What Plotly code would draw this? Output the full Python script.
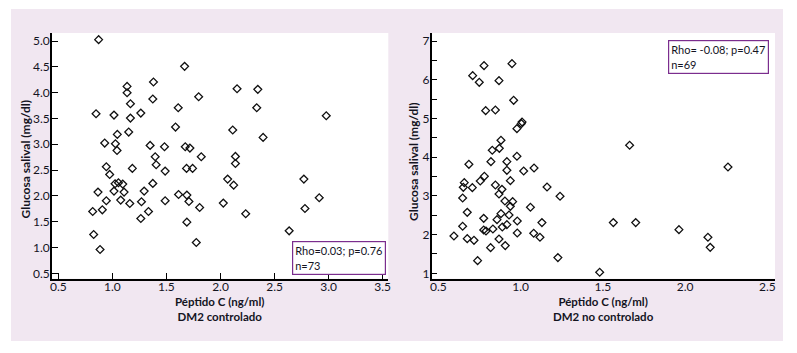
import plotly.graph_objects as go

W, H = 797, 353

# ---------------- data ----------------
ctrl_peptide = [0.873, 1.668, 1.380, 1.136, 1.136, 2.153, 2.345, 1.374, 1.798, 1.167,
                1.609, 2.335, 0.849, 1.015, 1.263, 1.167, 2.978, 1.584, 1.151, 1.046,
                2.113, 2.394, 0.929, 1.028, 1.349, 1.482, 1.674, 1.717, 1.043, 1.396,
                1.822, 2.138, 2.138, 1.405, 0.944, 1.185, 1.686, 1.742, 0.975, 1.488,
                2.066, 2.771, 1.025, 1.056, 1.096, 1.374, 2.122, 1.015, 1.108, 0.867,
                1.294, 1.612, 1.689, 2.913, 0.944, 1.077, 1.161, 1.269, 1.488, 1.708,
                2.026, 0.818, 0.907, 1.334, 1.807, 2.781, 1.263, 2.233, 1.689, 0.827,
                2.635, 0.886, 1.776]
ctrl_glucose = [5.026, 4.509, 4.205, 4.121, 3.998, 4.076, 4.063, 3.876, 3.921, 3.785,
                3.708, 3.708, 3.591, 3.565, 3.604, 3.507, 3.552, 3.333, 3.236, 3.191,
                3.275, 3.133, 3.023, 3.010, 2.977, 2.952, 2.952, 2.926, 2.880, 2.758,
                2.758, 2.764, 2.628, 2.603, 2.564, 2.532, 2.532, 2.532, 2.415, 2.480,
                2.325, 2.325, 2.234, 2.254, 2.228, 2.241, 2.208, 2.092, 2.073, 2.073,
                2.092, 2.027, 2.015, 1.963, 1.905, 1.918, 1.853, 1.885, 1.905, 1.892,
                1.860, 1.698, 1.730, 1.698, 1.775, 1.756, 1.562, 1.653, 1.491, 1.252,
                1.323, 0.961, 1.097]

nc_peptide = [0.948, 0.778, 0.709, 0.749, 0.869, 0.958, 0.788, 0.847, 1.009, 1.005,
              0.978, 0.881, 0.828, 0.871, 1.663, 0.978, 0.686, 0.820, 0.917, 1.082,
              2.261, 1.019, 0.917, 0.780, 0.755, 0.938, 0.658, 0.652, 0.707, 0.847,
              1.161, 0.887, 0.869, 1.240, 0.648, 0.905, 0.952, 0.938, 1.060, 0.676,
              0.881, 0.930, 0.776, 0.857, 0.980, 1.130, 1.564, 1.700, 0.648, 0.889,
              0.917, 0.776, 0.790, 0.832, 1.963, 0.980, 1.080, 0.595, 0.676, 0.717,
              0.869, 1.118, 2.139, 0.818, 0.907, 2.153, 1.227, 0.739, 1.481]
nc_glucose = [6.415, 6.363, 6.105, 5.933, 5.976, 5.468, 5.201, 5.218, 4.908, 4.865,
              4.736, 4.435, 4.177, 4.228, 4.306, 4.022, 3.815, 3.884, 3.884, 3.720,
              3.746, 3.643, 3.660, 3.505, 3.385, 3.393, 3.341, 3.221, 3.212, 3.281,
              3.230, 3.169, 3.049, 2.989, 2.946, 2.868, 2.851, 2.730, 2.705, 2.575,
              2.541, 2.507, 2.420, 2.386, 2.352, 2.309, 2.309, 2.309, 2.214, 2.197,
              2.257, 2.119, 2.093, 2.145, 2.128, 2.042, 2.033, 1.964, 1.895, 1.852,
              1.887, 1.930, 1.930, 1.663, 1.715, 1.670, 1.405, 1.327, 1.026]

x1_ticks = [0.5, 1.0, 1.5, 2.0, 2.5, 3.0, 3.5]
y1_ticks = [0.5, 1.0, 1.5, 2.0, 2.5, 3.0, 3.5, 4.0, 4.5, 5.0]
x2_ticks = [0.5, 1.0, 1.5, 2.0, 2.5]
y2_ticks = [1, 2, 3, 4, 5, 6, 7]

ctrl_stats = "Rho=0.03; p=0.76<br>n=73"
nc_stats = "Rho= -0.08; p=0.47<br>n=69"
x_title = "Péptido C (ng/ml)"
y_title = "Glucosa salival (mg/dl)"
sub1 = "DM2 controlado"
sub2 = "DM2 no controlado"

# ---------------- styling ----------------
FONT = "Lato"
LAV = "#f1e7f1"
TXT = "#14141f"
PURPLE = "#7b2d8e"


def px_x(p):
    return p / W


def px_y(p):
    return 1 - p / H


marker = dict(symbol="diamond-open", size=6, color="#111", line=dict(width=1.3, color="#111"))

fig = go.Figure()
fig.add_trace(go.Scatter(x=ctrl_peptide, y=ctrl_glucose, mode="markers", marker=marker,
                         xaxis="x", yaxis="y", showlegend=False, hoverinfo="x+y"))
fig.add_trace(go.Scatter(x=nc_peptide, y=nc_glucose, mode="markers", marker=marker,
                         xaxis="x2", yaxis="y2", showlegend=False, hoverinfo="x+y"))

axis_common = dict(showgrid=False, zeroline=False, showline=True, linecolor="#000",
                   linewidth=1.5, ticks="inside", ticklen=6, tickwidth=1.2, tickcolor="#000",
                   tickfont=dict(family=FONT, size=12, color=TXT), fixedrange=True,
                   automargin=False)

ydom = [px_y(278.7), px_y(33)]

fig.update_layout(
    template="none",
    width=W, height=H,
    margin=dict(l=0, r=0, t=0, b=0, pad=0, autoexpand=False),
    paper_bgcolor=LAV, plot_bgcolor="white",
    font=dict(family=FONT, color=TXT),
    hovermode="closest",
    xaxis=dict(domain=[px_x(52), px_x(388.3)], range=[0.4417, 3.5518], anchor="y",
               tickvals=x1_ticks, ticktext=[f"{v:.1f}" for v in x1_ticks],
               ticklabelstandoff=-4, **axis_common),
    yaxis=dict(domain=ydom, range=[0.3954, 5.155], anchor="x",
               tickvals=y1_ticks, ticktext=[f"{v:.1f}" for v in y1_ticks],
               ticklabelstandoff=-2, **axis_common),
    xaxis2=dict(domain=[px_x(431.5), px_x(775)], range=[0.4587, 2.5468], anchor="y2",
                tickvals=x2_ticks, ticktext=[f"{v:.1f}" for v in x2_ticks],
                ticklabelstandoff=-4,
                **{**axis_common, "tickcolor": "rgba(0,0,0,0)"}),
    yaxis2=dict(domain=ydom, range=[0.8605, 7.2066], anchor="x2",
                tickvals=y2_ticks, ticktext=[str(v) for v in y2_ticks],
                ticklabelstandoff=-2,
                minor=dict(dtick=0.5, ticks="inside", ticklen=6, tickcolor="#000", tickwidth=1.2),
                **axis_common),
)

# white frame around the lavender panel
frame = [(0, 0, W, 9), (0, 341, W, H), (0, 0, 11, H), (783, 0, W, H)]
for x0, y0, x1, y1 in frame:
    fig.add_shape(type="rect", xref="paper", yref="paper", x0=px_x(x0), x1=px_x(x1),
                  y0=px_y(y1), y1=px_y(y0), fillcolor="white", line=dict(width=0), layer="above")

ann = []
# stats boxes
ann.append(dict(text=ctrl_stats, xref="paper", yref="paper", x=px_x(385.5), y=px_y(240.7),
                xanchor="right", yanchor="top", align="left", showarrow=False,
                font=dict(family=FONT, size=11, color=TXT), bgcolor="white",
                bordercolor=PURPLE, borderwidth=1.2, borderpad=2))
ann.append(dict(text=nc_stats, xref="paper", yref="paper", x=px_x(768.5), y=px_y(40),
                xanchor="right", yanchor="top", align="left", showarrow=False,
                font=dict(family=FONT, size=11, color=TXT), bgcolor="white",
                bordercolor=PURPLE, borderwidth=1.2, borderpad=2))
# axis titles
for cx, sub in [((52 + 388.3) / 2, sub1), ((431.5 + 775) / 2, sub2)]:
    ann.append(dict(text=f"<b>{x_title}</b><br><b>{sub}</b>", xref="paper", yref="paper",
                    x=px_x(cx), y=px_y(308.5),
                    xanchor="center", yanchor="middle", showarrow=False,
                    font=dict(family=FONT, size=11.5, color=TXT)))
for cx, cy in [(25, 159.5), (413.5, 161.5)]:
    ann.append(dict(text=f"<b>{y_title}</b>", xref="paper", yref="paper", x=px_x(cx), y=px_y(cy),
                    xanchor="center", yanchor="middle", textangle=-90, showarrow=False,
                    font=dict(family=FONT, size=12, color=TXT)))
fig.update_layout(annotations=ann)

fig.write_html("out.html", config={"displayModeBar": False},
               post_script="document.body.style.margin='0px';document.body.style.overflow='hidden';")
